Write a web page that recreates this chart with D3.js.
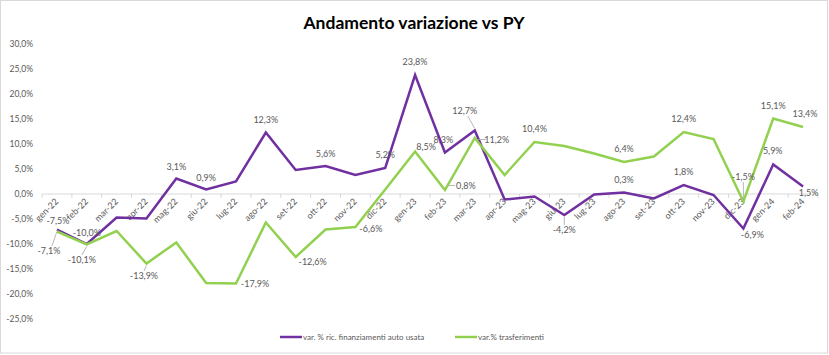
<!DOCTYPE html>
<html><head><meta charset="utf-8">
<script src="https://cdn.jsdelivr.net/npm/d3@7"></script>
<style>body{margin:0;background:#fff}svg{display:block}text{font-family:Lato,"Open Sans",sans-serif}</style>
</head><body>
<svg id="c" width="829" height="355"></svg>
<script>
const categories = ["gen-22","feb-22","mar-22","apr-22","mag-22","giu-22","lug-22","ago-22","set-22","ott-22","nov-22","dic-22","gen-23","feb-23","mar-23","apr-23","mag-23","giu-23","lug-23","ago-23","set-23","ott-23","nov-23","dic-23","gen-24","feb-24"];
const finanziamenti = [-7.1,-10.0,-4.7,-4.9,3.1,0.9,2.5,12.3,4.8,5.6,3.8,5.2,23.8,8.3,12.7,-1.1,-0.5,-4.2,-0.1,0.3,-0.9,1.8,-0.2,-6.9,5.9,1.5];
const trasferimenti = [-7.5,-10.1,-7.4,-13.9,-9.7,-17.8,-17.9,-5.7,-12.6,-7.1,-6.6,0.9,8.5,0.8,11.2,3.8,10.4,9.6,8.1,6.4,7.5,12.4,11.0,-1.5,15.1,13.4];
const yTicks = [-25,-20,-15,-10,-5,0,5,10,15,20,25,30];
const seriesNames = ["var. % ric. finanziamenti auto usata","var.% trasferimenti"];
const title = "Andamento variazione vs PY";

// label placement (offset from point: dx, dy of baseline, leader flag) - null = no label
const labelFin = [[-8,24.5,1],[0,-8],null,null,[0,-8.5],[0,-8.5],null,[0,-9.5],null,[0,-9],null,[0,-10],[0,-10],[-1.5,-10],[-10,-16.5,1],null,null,[0,18,1],null,[0,-9.5],null,[0,-10],null,[9,9.5],[-0.5,-10.5],[5.5,9.5]];
const labelTra = [[1,-7.5],[-5,18.5,1],null,[-2.5,15.5,1],null,null,[19,3.5],null,[17,8],null,[15.5,5],null,[11,-2],[21,-1,2],[22,5,2],null,[0,-10],null,null,[0,-10],null,[0,-10],null,[0,-21.5,1],[0,-9.5],[2,-10]];

const colors = ["#7030A0","#92D050"];
const svg = d3.select("#c");
svg.append("rect").attr("x",0.5).attr("y",0.5).attr("width",827).attr("height",352.5)
  .attr("fill","#fff").attr("stroke","#d9d9d9");

svg.append("text").attr("x",414).attr("y",29).attr("text-anchor","middle")
  .attr("font-size",17.5).attr("font-weight","bold").attr("fill","#000").text(title);

const x = d3.scaleBand().domain(categories).range([42,818]).padding(0);
const cx = c => x(c) + x.bandwidth()/2;
const y = d3.scaleLinear().domain([-25,30]).range([319,44]);

const it = d3.formatLocale({decimal:",",thousands:".",grouping:[3],currency:["€",""],minus:"-"});
const f1 = it.format(".1f");
const pct = v => f1(v) + "%";

// y axis
const ya = svg.append("g").attr("transform","translate(42,0)")
  .call(d3.axisLeft(y).tickValues(yTicks).tickSize(0).tickPadding(9).tickFormat(pct));
ya.select(".domain").remove();
ya.selectAll("text").attr("font-size",8.5).attr("fill","#595959").attr("font-family","Lato");

// x axis at zero
const xa = svg.append("g").attr("transform",`translate(0,${y(0)})`);
xa.append("line").attr("x1",42).attr("x2",818).attr("stroke","#d9d9d9").attr("stroke-width",1);
const bounds = categories.map(c=>x(c)).concat([x(categories[categories.length-1])+x.bandwidth()]);
xa.selectAll("line.tk").data(bounds).join("line").attr("class","tk")
  .attr("x1",d=>d).attr("x2",d=>d).attr("y1",0).attr("y2",4).attr("stroke","#d9d9d9");
xa.selectAll("text").data(categories).join("text")
  .attr("transform",d=>`translate(${cx(d)+2},8) rotate(-45)`)
  .attr("text-anchor","end").attr("font-size",9).attr("fill","#595959").text(d=>d);

const line = d3.line().x((d,i)=>cx(categories[i])).y(d=>y(d));
[finanziamenti,trasferimenti].forEach((s,k)=>{
  svg.append("path").datum(s).attr("d",line).attr("fill","none")
    .attr("stroke",colors[k]).attr("stroke-width",2.5).attr("stroke-linejoin","miter");
});

// data labels
const lg = svg.append("g");
[[finanziamenti,labelFin],[trasferimenti,labelTra]].forEach(([s,lp])=>{
  s.forEach((v,i)=>{
    const p = lp[i]; if(!p) return;
    const px = cx(categories[i]), py = y(v);
    const tx = px+p[0], ty = py+p[1];
    if(p[2]===1){
      const up = p[1] < 0;
      lg.append("line").attr("x1",px).attr("y1",py+(up?-2:2))
        .attr("x2",tx + (p[0]<-5?3:0)).attr("y2",up?ty+2:ty-8)
        .attr("stroke","#a6a6a6").attr("stroke-width",0.8);
    } else if(p[2]===2){
      lg.append("line").attr("x1",px+3).attr("y1",ty-3.5).attr("x2",tx-11).attr("y2",ty-3.5)
        .attr("stroke","#a6a6a6").attr("stroke-width",0.8);
    }
    lg.append("text").attr("x",tx).attr("y",ty).attr("text-anchor","middle")
      .attr("font-size",9).attr("fill","#595959").text(pct(v));
  });
});

// legend
const leg = svg.append("g");
const legX = [280,455];
seriesNames.forEach((n,k)=>{
  leg.append("line").attr("x1",legX[k]).attr("x2",legX[k]+22).attr("y1",337).attr("y2",337)
    .attr("stroke",colors[k]).attr("stroke-width",2.5);
  leg.append("text").attr("x",legX[k]+23).attr("y",340).attr("font-size",8)
    .attr("fill","#595959").text(n);
});
</script>
</body></html>
